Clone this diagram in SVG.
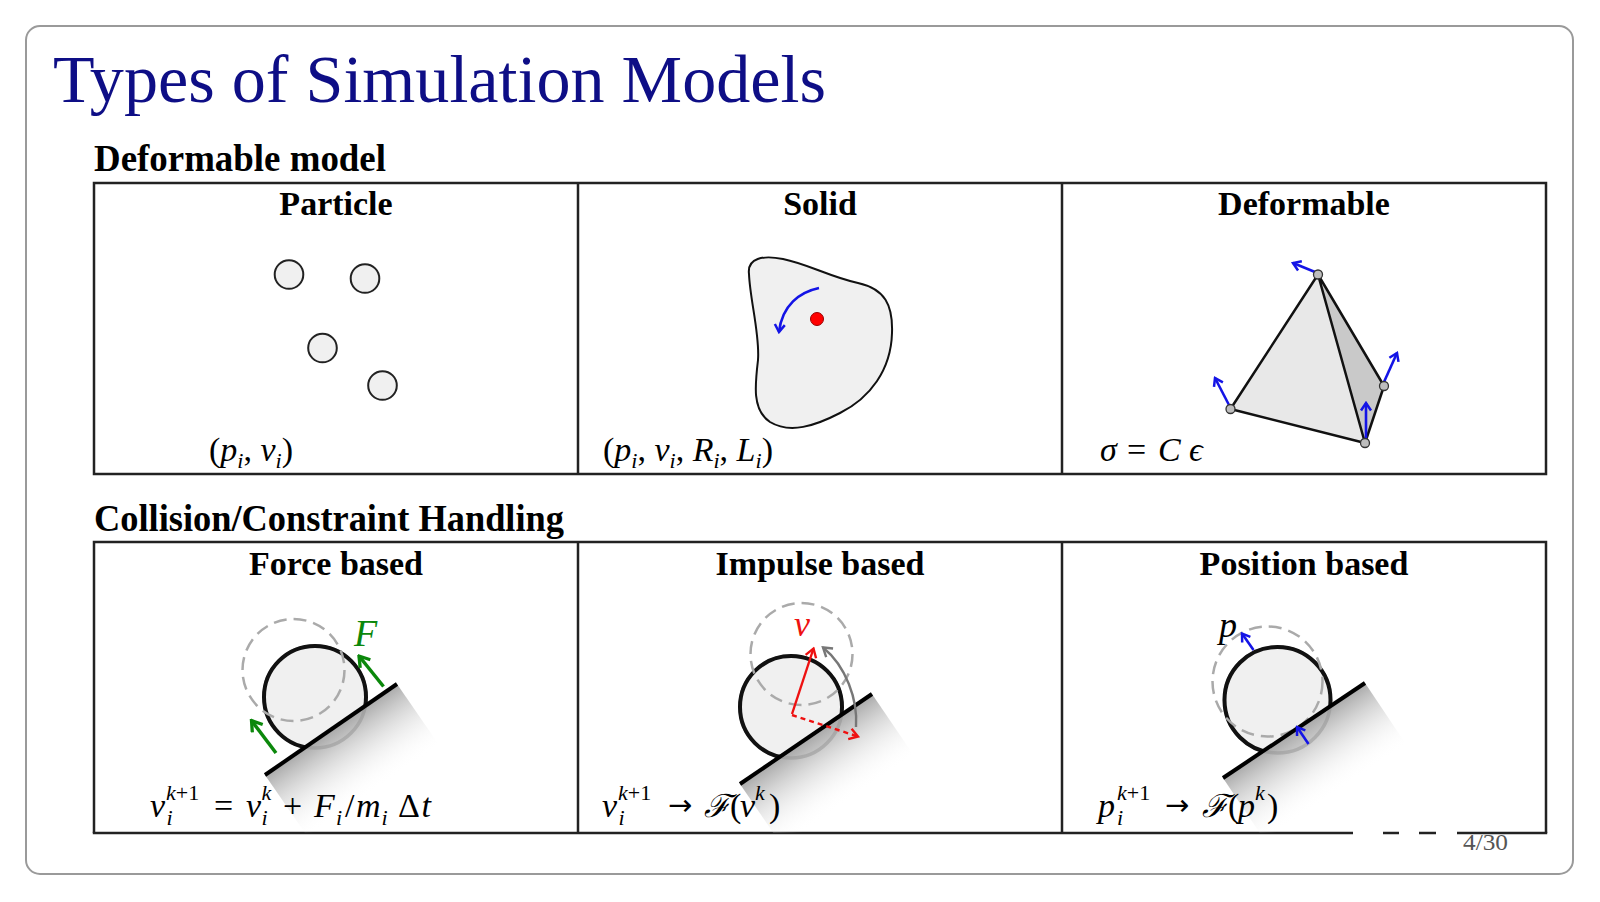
<svg xmlns="http://www.w3.org/2000/svg" width="1600" height="902" viewBox="0 0 1600 902">
<style>
.t{font-family:"Liberation Serif","DejaVu Serif",serif;fill:#000}
.b{font-weight:bold}
.m{font-family:"Liberation Serif","DejaVu Serif",serif;font-size:34px;fill:#000}
.i{font-style:italic}
.s{font-size:22px}
.ar{font-family:"DejaVu Sans","Liberation Sans",sans-serif;font-size:29px}
.cal{font-family:"DejaVu Serif","Liberation Serif",serif;font-style:italic;font-size:32px}
.cell{fill:none;stroke:#222;stroke-width:2.5}
.ball{fill:#f0f0f0;stroke:#111;stroke-width:4}
.ballg{fill:#f0f0f0;stroke:#a8a8a8;stroke-width:3.5}
.dash{fill:none;stroke:#aaa;stroke-width:2.5;stroke-dasharray:13 7}
.slope{stroke:#000;stroke-width:4;stroke-linecap:butt}
.g{stroke:#0b880b;stroke-width:3.5;fill:none;marker-end:url(#arrG)}
.bl{stroke:#1414e6;stroke-width:2.6;fill:none;marker-end:url(#arrB)}
.edge{stroke:#111;stroke-width:2.5;stroke-linejoin:round}
.vtx{fill:#bdbdbd;stroke:#333;stroke-width:1.3}
</style>
<defs>
<marker id="arrG" markerUnits="userSpaceOnUse" viewBox="-12 -8 14 16" markerWidth="14" markerHeight="16" refX="0" refY="0" orient="auto">
<path d="M-10,-6.5 L0,0 L-10,6.5" fill="none" stroke="#0b880b" stroke-width="3.3"/>
</marker>
<marker id="arrB" markerUnits="userSpaceOnUse" viewBox="-10 -7 12 14" markerWidth="12" markerHeight="14" refX="0" refY="0" orient="auto">
<path d="M-7.5,-5 L0,0 L-7.5,5" fill="none" stroke="#1414e6" stroke-width="2.5"/>
</marker>
<marker id="arrR" markerUnits="userSpaceOnUse" viewBox="-11 -7 13 14" markerWidth="13" markerHeight="14" refX="0" refY="0" orient="auto">
<path d="M-8.5,-5.5 L0,0 L-8.5,5.5" fill="none" stroke="#ee1111" stroke-width="2.4"/>
</marker>
<marker id="arrK" markerUnits="userSpaceOnUse" viewBox="-11 -7 13 14" markerWidth="13" markerHeight="14" refX="0" refY="0" orient="auto">
<path d="M-8.5,-5.5 L0,0 L-8.5,5.5" fill="none" stroke="#777" stroke-width="2.4"/>
</marker>
<clipPath id="clipF"><polygon points="100,889 594,548 594,400 100,400"/></clipPath>
<clipPath id="clipI"><polygon points="575,897 1070,559 1070,400 575,400"/></clipPath>
<clipPath id="clipP"><polygon points="1057,889 1555,556 1555,400 1057,400"/></clipPath>
<clipPath id="tbl2"><rect x="94" y="542" width="1452" height="291"/></clipPath>
<linearGradient id="shF" gradientUnits="userSpaceOnUse" x1="265" y1="775" x2="307.6" y2="836.7">
<stop offset="0" stop-color="#9a9a9a" stop-opacity="0.85"/><stop offset="1" stop-color="#fff" stop-opacity="0"/>
</linearGradient>
<linearGradient id="shI" gradientUnits="userSpaceOnUse" x1="740" y1="784" x2="782.2" y2="846">
<stop offset="0" stop-color="#9a9a9a" stop-opacity="0.85"/><stop offset="1" stop-color="#fff" stop-opacity="0"/>
</linearGradient>
<linearGradient id="shP" gradientUnits="userSpaceOnUse" x1="1223" y1="778" x2="1264.7" y2="840.3">
<stop offset="0" stop-color="#9a9a9a" stop-opacity="0.85"/><stop offset="1" stop-color="#fff" stop-opacity="0"/>
</linearGradient>
</defs>

<rect width="1600" height="902" fill="#fff"/>
<g id="frame">
<rect x="26" y="26" width="1547" height="848" rx="14" ry="14" fill="#fff" stroke="#9a9a9a" stroke-width="2"/>
</g>

<g id="headings">
<text class="t" x="53" y="102" font-size="67" style="fill:#0e0e86" textLength="773" lengthAdjust="spacingAndGlyphs">Types of Simulation Models</text>
<text class="t b" x="94" y="171" font-size="37" textLength="292" lengthAdjust="spacingAndGlyphs">Deformable model</text>
<text class="t b" x="94" y="531" font-size="37" textLength="470" lengthAdjust="spacingAndGlyphs">Collision/Constraint Handling</text>
</g>

<g id="tables">
<rect class="cell" x="94" y="183" width="1452" height="291"/>
<line class="cell" x1="578" y1="183" x2="578" y2="474"/>
<line class="cell" x1="1062" y1="183" x2="1062" y2="474"/>
<path class="cell" d="M94,833 L94,542 L1546,542 L1546,833 M578,542 L578,833 M1062,542 L1062,833"/>
<path class="cell" d="M92.8,833 L1353,833 M1383,833 L1399,833 M1419,833 L1436,833 M1457,833 L1547.2,833"/>
</g>

<g id="particle">
<text class="t b" x="336" y="215" font-size="34" text-anchor="middle">Particle</text>
<circle cx="289" cy="274.5" r="14.3" fill="#f0f0f0" stroke="#222" stroke-width="2"/>
<circle cx="365" cy="278.5" r="14.3" fill="#f0f0f0" stroke="#222" stroke-width="2"/>
<circle cx="322.5" cy="348" r="14.3" fill="#f0f0f0" stroke="#222" stroke-width="2"/>
<circle cx="382.5" cy="385.5" r="14.3" fill="#f0f0f0" stroke="#222" stroke-width="2"/>
<text class="m" x="209" y="461">(<tspan class="i">p</tspan><tspan class="i s" dy="7">i</tspan><tspan dy="-7">, </tspan><tspan class="i">v</tspan><tspan class="i s" dy="7">i</tspan><tspan dy="-7">)</tspan></text>
</g>

<g id="solid">
<text class="t b" x="820" y="215" font-size="34" text-anchor="middle">Solid</text>
<path d="M749,274 C747,258 763,255 783,259 C808,264 830,277 858,283 C885,289 893,305 892,333 C891,370 870,398 840,413 C815,426 790,434 770,422 C752,410 755,385 758,360 C760,335 750,300 749,274 Z" fill="#f0f0f0" stroke="#111" stroke-width="2"/>
<path class="bl" d="M819,288 C800,292 782,305 779,332"/>
<circle cx="817" cy="319" r="6.5" fill="#ff0000" stroke="#900" stroke-width="1"/>
<text class="m" x="603" y="461">(<tspan class="i">p</tspan><tspan class="i s" dy="7">i</tspan><tspan dy="-7">, </tspan><tspan class="i">v</tspan><tspan class="i s" dy="7">i</tspan><tspan dy="-7">, </tspan><tspan class="i">R</tspan><tspan class="i s" dy="7">i</tspan><tspan dy="-7">, </tspan><tspan class="i">L</tspan><tspan class="i s" dy="7">i</tspan><tspan dy="-7">)</tspan></text>
</g>

<g id="deformable">
<text class="t b" x="1304" y="215" font-size="34" text-anchor="middle">Deformable</text>
<polygon points="1318,274.5 1230.5,409 1365,443" fill="#e8e8e8"/>
<polygon points="1318,274.5 1365,443 1384,386" fill="#c9c9c9"/>
<path class="edge" fill="none" d="M1318,274.5 L1230.5,409 L1365,443 Z M1318,274.5 L1384,386 L1365,443"/>
<path class="bl" d="M1315,272 L1293,263"/>
<path class="bl" d="M1229,405 L1215,378"/>
<path class="bl" d="M1384,382 L1397,353"/>
<path class="bl" d="M1366,438 L1366,403"/>
<circle class="vtx" cx="1318" cy="274.5" r="4.5"/>
<circle class="vtx" cx="1230.5" cy="409" r="4.5"/>
<circle class="vtx" cx="1365" cy="443" r="4.5"/>
<circle class="vtx" cx="1384" cy="386" r="4.5"/>
<text class="m" y="461"><tspan class="i" x="1100">σ</tspan><tspan x="1127">=</tspan><tspan class="i" x="1158">C</tspan><tspan class="i" x="1189">ϵ</tspan></text>
</g>

<g id="force">
<text class="t b" x="336" y="575" font-size="34" text-anchor="middle">Force based</text>
<circle class="ballg" cx="315" cy="697" r="51"/>
<polygon points="265,775 397,684 439.6,745.7 307.6,836.7" fill="url(#shF)" clip-path="url(#tbl2)"/>
<circle class="ball" cx="315" cy="697" r="51" clip-path="url(#clipF)"/>
<circle class="dash" cx="293.5" cy="670" r="51"/>
<line class="slope" x1="265" y1="775" x2="397" y2="684"/>
<path class="g" d="M383.5,686.5 L359,656"/>
<path class="g" d="M276,753 L251.5,720.5"/>
<text class="t i" x="354" y="646" font-size="38" style="fill:#0b880b">F</text>
<text class="m" y="817"><tspan class="i" x="150">v</tspan><tspan class="s" x="166" y="800"><tspan class="i">k</tspan>+1</tspan><tspan class="i s" x="166.5" y="825">i</tspan><tspan x="214" y="817">=</tspan><tspan class="i" x="246">v</tspan><tspan class="i s" x="261.5" y="800">k</tspan><tspan class="i s" x="261.5" y="825">i</tspan><tspan x="283" y="817">+</tspan><tspan class="i" x="314">F</tspan><tspan class="i s" x="336" y="825">i</tspan><tspan x="345" y="817">/</tspan><tspan class="i" x="356">m</tspan><tspan class="i s" x="381.5" y="825">i</tspan><tspan x="398" y="817">Δ</tspan><tspan class="i" x="421.5">t</tspan></text>
</g>

<g id="impulse">
<text class="t b" x="820" y="575" font-size="34" text-anchor="middle">Impulse based</text>
<circle class="ballg" cx="791" cy="707" r="51"/>
<polygon points="740,784 872,694 914.2,756 782.2,846" fill="url(#shI)" clip-path="url(#tbl2)"/>
<circle class="ball" cx="791" cy="707" r="51" clip-path="url(#clipI)"/>
<circle class="dash" cx="801.5" cy="654" r="51"/>
<line class="slope" x1="740" y1="784" x2="872" y2="694"/>
<path d="M856,727 C858,700 846,666 823,647.5" fill="none" stroke="#777" stroke-width="2.4" marker-end="url(#arrK)"/>
<path d="M792,714 L813.5,648.5" fill="none" stroke="#ee1111" stroke-width="2.4" marker-end="url(#arrR)"/>
<path d="M792,715 L858,736.5" fill="none" stroke="#ee1111" stroke-width="2.4" stroke-dasharray="5 4" marker-end="url(#arrR)"/>
<text class="t i" x="794" y="636" font-size="36" style="fill:#ee1111">v</text>
<text class="m" y="817"><tspan class="i" x="602">v</tspan><tspan class="s" x="618" y="800"><tspan class="i">k</tspan>+1</tspan><tspan class="i s" x="618.5" y="825">i</tspan><tspan class="ar" x="668" y="815">→</tspan><tspan class="cal" x="704" y="817">ℱ</tspan><tspan x="730">(</tspan><tspan class="i" x="740">v</tspan><tspan class="i s" x="755" y="800">k</tspan><tspan x="769" y="817">)</tspan></text>
</g>

<g id="position">
<text class="t b" x="1304" y="575" font-size="34" text-anchor="middle">Position based</text>
<circle class="ballg" cx="1277.5" cy="700" r="53"/>
<polygon points="1223,778 1365,683 1406.7,745.3 1264.7,840.3" fill="url(#shP)" clip-path="url(#tbl2)"/>
<circle class="ball" cx="1277.5" cy="700" r="53" clip-path="url(#clipP)"/>
<circle class="dash" cx="1267.5" cy="681.5" r="55"/>
<line class="slope" x1="1223" y1="778" x2="1365" y2="683"/>
<path class="bl" d="M1253.5,650 L1242,633.5"/>
<path class="bl" d="M1308.5,744 L1297,727"/>
<text class="t i" x="1219" y="637" font-size="36">p</text>
<text class="m" y="817"><tspan class="i" x="1098">p</tspan><tspan class="s" x="1117" y="800"><tspan class="i">k</tspan>+1</tspan><tspan class="i s" x="1117" y="825">i</tspan><tspan class="ar" x="1165" y="815">→</tspan><tspan class="cal" x="1202" y="817">ℱ</tspan><tspan x="1228">(</tspan><tspan class="i" x="1238">p</tspan><tspan class="i s" x="1255" y="800">k</tspan><tspan x="1267" y="817">)</tspan></text>
</g>

<g id="footer">
<text class="t" x="1463" y="850" font-size="23" style="fill:#555" textLength="45" lengthAdjust="spacingAndGlyphs">4/30</text>
</g>
</svg>
